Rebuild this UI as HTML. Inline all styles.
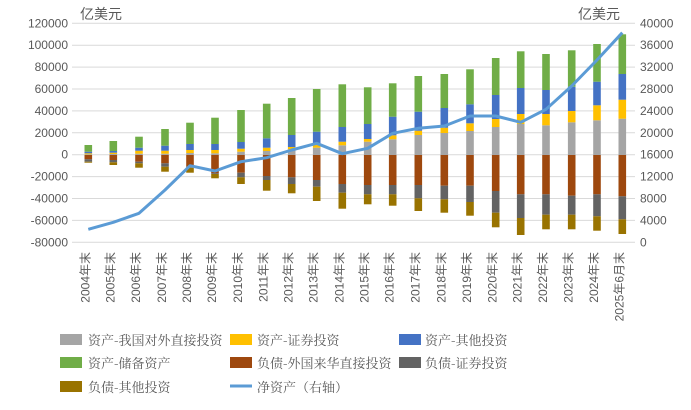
<!DOCTYPE html>
<html><head><meta charset="utf-8"><style>
html,body{margin:0;padding:0;background:#fff;}
svg{display:block;font-family:"Liberation Sans","Noto Sans CJK SC",sans-serif;}
</style></head><body>
<svg width="691" height="410" viewBox="0 0 691 410" xmlns="http://www.w3.org/2000/svg">
<g stroke="#d9d9d9" stroke-width="1" id="grid"></g>
<g id="bars"></g>
<g id="labels" fill="#595959" font-size="12"></g>
<text x="80" y="19" font-size="14" fill="#595959">亿美元</text>
<text x="578" y="19" font-size="14" fill="#595959">亿美元</text>
<polyline id="line" fill="none" stroke="#5b9bd5" stroke-width="3" stroke-linejoin="round"/>
<g font-size="13" fill="#595959" font-family="Noto Serif CJK SC,serif">
<rect x="60" y="334" width="22" height="11" fill="#a5a5a5"/><text x="88" y="345">资产-我国对外直接投资</text>
<rect x="230" y="334" width="22" height="11" fill="#ffc000"/><text x="257" y="345">资产-证券投资</text>
<rect x="399" y="334" width="22" height="11" fill="#4472c4"/><text x="425" y="345">资产-其他投资</text>
<rect x="60" y="357" width="22" height="11" fill="#70ad47"/><text x="88" y="368">资产-储备资产</text>
<rect x="230" y="357" width="22" height="11" fill="#9e480e"/><text x="257" y="368">负债-外国来华直接投资</text>
<rect x="399" y="357" width="22" height="11" fill="#636363"/><text x="425" y="368">负债-证券投资</text>
<rect x="60" y="381" width="22" height="11" fill="#997300"/><text x="88" y="392">负债-其他投资</text>
<line x1="230" y1="386" x2="252" y2="386" stroke="#5b9bd5" stroke-width="3"/><text x="257" y="392">净资产（右轴）</text>
</g>
<script>
var NS="http://www.w3.org/2000/svg";
function el(t,a,p,txt){var e=document.createElementNS(NS,t);for(var k in a)e.setAttribute(k,a[k]);if(txt!==undefined)e.textContent=txt;p.appendChild(e);return e;}
var g=document.getElementById('grid'),lb=document.getElementById('labels'),bs=document.getElementById('bars');
for(var i=0;i<=10;i++){var y=23.3+i*21.9;el('line',{x1:72,x2:635,y1:y,y2:y},g);
el('text',{x:68,y:y+4,'text-anchor':'end'},lb,String(120000-i*20000));
el('text',{x:640,y:y+4},lb,String(40000-i*4000));}
var xs=[88.3,113.3,139,165,190,215,241,266.7,291.7,316.7,342.3,367.7,392.7,418.3,444.3,470,495.7,520.7,546,571.7,597,622.3];
var P=[[154.3,153.3,151.7,145,159.3,161.7,162.7],[154,152.7,151,141,160,162.3,165],[153.7,150.7,147.7,136.7,161.7,163.3,167.7],[153.7,150.7,145.7,129,163.3,166.7,171.7],[153,150,144,122.7,166.7,167.7,172.7],[153.3,150,144,117.7,173.3,174,178.3],[151.7,148.7,142,110,172.7,177.3,184],[151,147.7,138.3,103.7,176,180,190.7],[149.3,147,135,98,177.3,184,193.3],[147.7,144.3,131.7,89,180,186.7,201],[145.3,141.7,127,84.3,184,192.7,208.7],[141.7,139,124,87.3,185,194.3,204.3],[139.3,135.3,116.7,83.3,185,194.3,205.7],[135,130.7,111.7,76,185,198.3,211],[133,127.7,108,74,185.7,199.3,212.7],[131,123.3,104.3,69.3,185.7,202,215.7],[127,119,95,58,191,212.7,227.3],[124,114,88,51.3,194.3,218,235],[125.3,114,90,54,194.3,214.7,229.3],[122.3,111,86.7,50.3,195.7,214.7,229.3],[120.3,105.3,81.7,44,194.3,216.3,230.7],[118.7,99.7,74,34.3,196.3,219.3,234]];
var pc=['#a5a5a5','#ffc000','#4472c4','#70ad47'],nc=['#9e480e','#636363','#997300'];
var yrs=[];for(var i=2004;i<=2024;i++)yrs.push(i+'年末');yrs.push('2025年6月末');
var Z=155,W=7.6;
xs.forEach(function(x,i){var p=P[i],prev=Z;
for(var j=0;j<4;j++){el('rect',{x:x-W/2,y:p[j],width:W,height:Math.max(0,prev-p[j]),fill:pc[j]},bs);prev=p[j];}
prev=Z;for(var j=0;j<3;j++){el('rect',{x:x-W/2,y:prev,width:W,height:Math.max(0,p[4+j]-prev),fill:nc[j]},bs);prev=p[4+j];}
el('text',{x:0,y:0,transform:'translate('+(x+1)+',252) rotate(-90)','text-anchor':'end'},lb,yrs[i]);
});
var L=[229.3,222.3,213.3,190,165.7,171,161.7,157.7,150,143.3,153.7,148.3,133.3,128.3,126,116,116,122.3,109.3,86,60,32.7];
document.getElementById('line').setAttribute('points',xs.map(function(x,i){return x+','+L[i];}).join(' '));
</script>
</svg>
</body></html>
